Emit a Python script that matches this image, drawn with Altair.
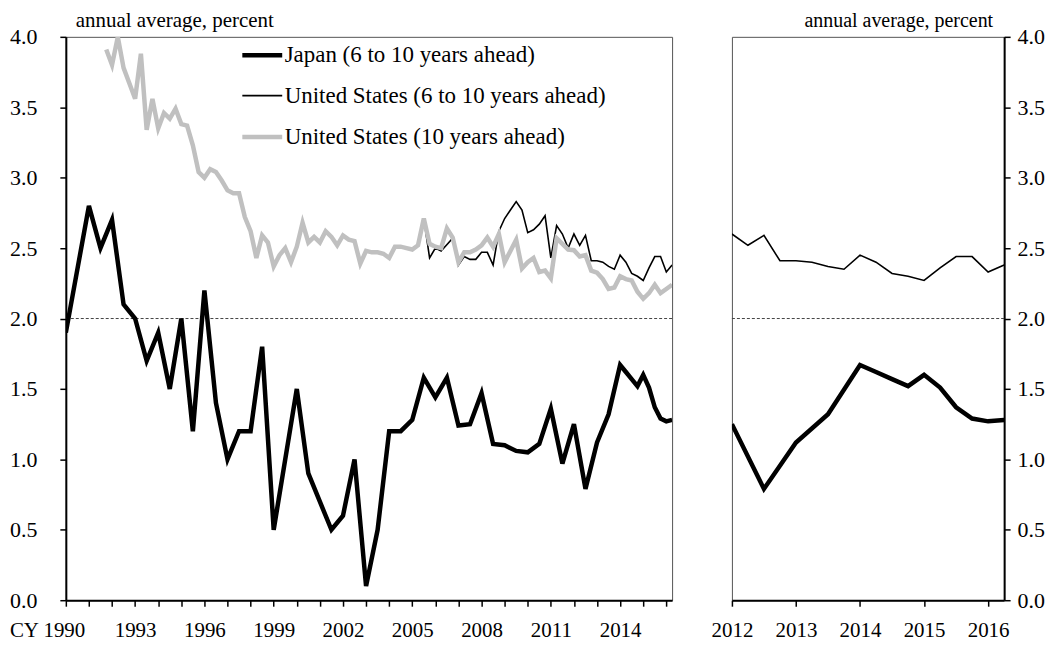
import altair as alt
import pandas as pd

FONT = "Liberation Serif"

SERIES = [
    "Japan (6 to 10 years ahead)",
    "United States (6 to 10 years ahead)",
    "United States (10 years ahead)",
]

# Japan, 6 to 10 years ahead (semiannual, quarterly from 2014)
jp_dates = [1990.0, 1991.0, 1991.5, 1992.0, 1992.5, 1993.0, 1993.5, 1994.0, 1994.5,
            1995.0, 1995.5, 1996.0, 1996.5, 1997.0, 1997.5, 1998.0, 1998.5, 1999.0,
            2000.0, 2000.5, 2001.5, 2002.0, 2002.5, 2003.0, 2003.5, 2004.0, 2004.5,
            2005.0, 2005.5, 2006.0, 2006.5, 2007.0, 2007.5, 2008.0, 2008.5, 2009.0,
            2009.5, 2010.0, 2010.5, 2011.0, 2011.5, 2012.0, 2012.5, 2013.0, 2013.5,
            2014.0, 2014.25, 2014.5, 2014.75, 2015.0, 2015.25, 2015.5, 2015.75,
            2016.0, 2016.25]
jp_values = [1.9, 2.8, 2.5, 2.7, 2.1, 2.0, 1.7, 1.9, 1.5,
             2.0, 1.2, 2.2, 1.4, 1.0, 1.2, 1.2, 1.8, 0.5,
             1.5, 0.9, 0.5, 0.6, 1.0, 0.1, 0.5, 1.2, 1.2,
             1.28, 1.58, 1.44, 1.58, 1.24, 1.25, 1.47, 1.11, 1.10,
             1.06, 1.05, 1.11, 1.36, 0.97, 1.25, 0.79, 1.12, 1.32,
             1.67, 1.62, 1.57, 1.52, 1.60, 1.51, 1.37, 1.29,
             1.27, 1.28]

# United States, 6 to 10 years ahead
us610_dates = [2005.5, 2005.75, 2006.0, 2006.25, 2006.75] + [2007.0 + 0.25 * i for i in range(38)]
us610_values = [2.71, 2.43, 2.50, 2.48, 2.57,
                2.38, 2.44, 2.42, 2.42,
                2.47, 2.47, 2.38, 2.62,
                2.71, 2.77, 2.83, 2.77,
                2.61, 2.63, 2.67, 2.73,
                2.43, 2.66, 2.60, 2.50,
                2.60, 2.52, 2.59, 2.41,
                2.41, 2.40, 2.37, 2.35,
                2.45, 2.40, 2.32, 2.30,
                2.27, 2.36, 2.44, 2.44,
                2.33, 2.38]

# United States, 10 years ahead (quarterly)
us10_dates = [1991.75 + 0.25 * i for i in range(99)]
us10_values = [3.91,
               3.80, 4.00, 3.78, 3.67,
               3.56, 3.88, 3.34, 3.56,
               3.35, 3.46, 3.42, 3.49,
               3.38, 3.37, 3.23, 3.04,
               3.00, 3.06, 3.04, 2.98,
               2.91, 2.89, 2.89, 2.72,
               2.62, 2.43, 2.59, 2.54,
               2.37, 2.45, 2.50, 2.40,
               2.51, 2.68, 2.54, 2.58,
               2.54, 2.62, 2.58, 2.52,
               2.59, 2.56, 2.55, 2.39,
               2.48, 2.47, 2.47, 2.46,
               2.43, 2.51, 2.51, 2.50,
               2.49, 2.52, 2.71, 2.53,
               2.51, 2.50, 2.64, 2.575,
               2.40, 2.47, 2.47, 2.49,
               2.52, 2.575, 2.51, 2.60,
               2.40, 2.48, 2.56, 2.355,
               2.40, 2.43, 2.33, 2.34,
               2.285, 2.57, 2.53, 2.49,
               2.485, 2.44, 2.45, 2.34,
               2.325, 2.28, 2.21, 2.22,
               2.30, 2.28, 2.27, 2.19,
               2.14, 2.18, 2.24, 2.18,
               2.21, 2.24]

ref_level = [2.0]
y_ticks = [0.0, 0.5, 1.0, 1.5, 2.0, 2.5, 3.0, 3.5, 4.0]
left_years = list(range(1990, 2017))
right_years = [2012, 2013, 2014, 2015, 2016]

jp = pd.DataFrame({"t": jp_dates, "v": jp_values, "series": SERIES[0]})
us610 = pd.DataFrame({"t": us610_dates, "v": us610_values, "series": SERIES[1]})
us10 = pd.DataFrame({"t": us10_dates, "v": us10_values, "series": SERIES[2]})
ref = pd.DataFrame({"v": ref_level})

color_scale = alt.Scale(domain=SERIES, range=["#000000", "#000000", "#c0c0c0"])
width_scale = alt.Scale(type="ordinal", domain=SERIES, range=[4.5, 1.6, 4.5])

legend = alt.Legend(
    title=None, orient="none", legendX=174.5, legendY=-4,
    symbolType="stroke", symbolSize=1600, padding=0, rowPadding=7,
    labelFont=FONT, labelFontSize=23, labelColor="#000000", labelOffset=0,
    labelLimit=600,
)

axis_common = dict(
    grid=False, domainColor="#000000", domainWidth=2, tickColor="#000000",
    tickWidth=1.5, tickSize=6, labelFont=FONT, labelColor="#000000",
)

# ---------- left panel ----------
xL = alt.X(
    "t:Q", title=None,
    scale=alt.Scale(domain=[1990, 2016.25], nice=False, zero=False),
    axis=alt.Axis(
        values=left_years, format="d", labelFontSize=21, labelPadding=13,
        labelExpr="(datum.value - 1990) % 3 == 0 ? (datum.value == 1990 ? 'CY 1990' : datum.label) : ''",
        labelAlign={"condition": {"test": "datum.value == 1990", "value": "right"}, "value": "center"},
        labelOffset={"condition": {"test": "datum.value == 1990", "value": 19}, "value": 0},
        labelOverlap=False, labelFlush=False, **axis_common,
    ),
)
yL = alt.Y(
    "v:Q",
    scale=alt.Scale(domain=[0, 4], nice=False, zero=False),
    axis=alt.Axis(
        values=y_ticks, format=".1f", labelFontSize=22, labelPadding=23,
        title="annual average, percent", titleAngle=0, titleAlign="left",
        titleBaseline="alphabetic", titleX=9.5, titleY=-10, titleFont=FONT,
        titleFontSize=21, titleFontWeight="normal", titleColor="#000000",
        **axis_common,
    ),
)

def series_layer(df, x, y, with_legend):
    lg = legend if with_legend else None
    return alt.Chart(df).mark_line(clip=True).encode(
        x=x, y=y,
        color=alt.Color("series:N", scale=color_scale, legend=lg),
        strokeWidth=alt.StrokeWidth("series:N", scale=width_scale, legend=lg),
    )

ref_left = alt.Chart(ref).mark_rule(color="#444444", strokeWidth=1, strokeDash=[3, 2]).encode(y=yL)

left = alt.layer(
    ref_left,
    series_layer(jp, xL, yL, True),
    series_layer(us610, xL, yL, True),
    series_layer(us10, xL, yL, True),
).properties(width=608, height=565)

# ---------- right panel ----------
xR = alt.X(
    "t:Q", title=None,
    scale=alt.Scale(domain=[2012, 2016.25], nice=False, zero=False),
    axis=alt.Axis(values=right_years, format="d", labelFontSize=21, labelPadding=13,
                  labelFlush=False, **axis_common),
)
yR = alt.Y(
    "v:Q",
    scale=alt.Scale(domain=[0, 4], nice=False, zero=False),
    axis=alt.Axis(
        orient="right", values=y_ticks, format=".1f", labelFontSize=22, labelPadding=7,
        title="annual average, percent", titleAngle=0, titleAlign="right",
        titleBaseline="alphabetic", titleX=-11.5, titleY=-10, titleFont=FONT,
        titleFontSize=20, titleFontWeight="normal", titleColor="#000000",
        **axis_common,
    ),
)

jp_r = jp[jp["t"] >= 2012]
us610_r = us610[us610["t"] >= 2012]
ref_right = alt.Chart(ref).mark_rule(color="#444444", strokeWidth=1, strokeDash=[3, 2]).encode(y=yR)

right = alt.layer(
    ref_right,
    series_layer(jp_r, xR, yR, False),
    series_layer(us610_r, xR, yR, False),
).properties(width=273, height=565)

chart = alt.hconcat(left, right, spacing=60, bounds="flush").resolve_scale(
    color="independent", strokeWidth="independent"
).properties(
    padding={"left": 0, "top": 0, "right": 6, "bottom": 4},
    background="#ffffff",
).configure_view(stroke="#555555", strokeWidth=1)

chart.save("out.html", embed_options={"renderer": "svg", "actions": False})
